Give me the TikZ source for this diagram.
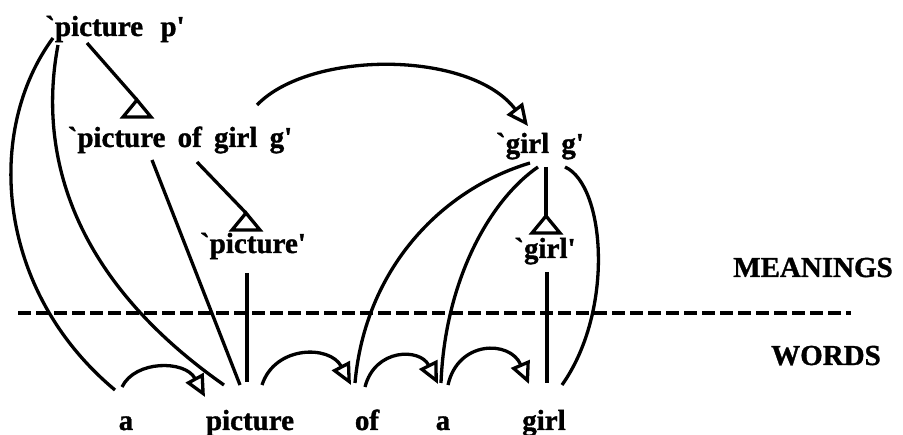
\documentclass[tikz,border=0pt]{standalone}
\usepackage{fontspec}
\setmainfont{Liberation Serif}[Ligatures=TeXOff,BoldFeatures={FakeBold=1.2}]
\usetikzlibrary{arrows.meta}
\newcommand\wsp{\hspace{0.42em}}
\begin{document}
\begin{tikzpicture}[x=1pt,y=-1pt,
  lbl/.style={anchor=base,inner sep=0pt,font=\fontsize{29}{31}\selectfont\bfseries},
  conn/.style={line width=3.3pt},
  arr/.style={line width=3.3pt,-{Triangle[open,length=22pt,width=20pt]}},
  tri/.style={line width=3.3pt,line join=miter},
  sep/.style={line width=3.3pt,dash pattern=on 13pt off 5pt}]
\useasboundingbox (0,0) rectangle (903,435);
% meaning nodes
\node[lbl] (pp) at (115,36) {`picture\hspace{0.6em}p'};
\node[lbl] (pg) at (180,147) {`picture\wsp of\wsp girl\wsp g'};
\node[lbl] (pc) at (253,253) {`picture'};
\node[lbl] (gg) at (540,153) {`girl\wsp g'};
\node[lbl] (gl) at (545,258) {`girl'};
\node[lbl] (mean) at (813,277) {MEANINGS};
\node[lbl] (wrds) at (826,365) {WORDS};
% word nodes
\node[lbl] (wa) at (126,430) {a};
\node[lbl] (wpic) at (250,430) {picture};
\node[lbl] (wof) at (367,430) {of};
\node[lbl] (wa2) at (443,430) {a};
\node[lbl] (wgirl) at (544,430) {girl};
% separator
\coordinate (sepL) at (18,313);
\coordinate (sepR) at (851,313);
\draw[sep] (sepL) -- (sepR);
% triangles (isa)
\coordinate (t1) at (137,100);
\coordinate (t2) at (246,213);
\coordinate (t3) at (546,216);
\foreach \t in {t1,t2,t3}{
  \draw[tri] (\t) -- ++(-14,17) -- ++(28,0) -- cycle;
}
% anchor points near nodes
\coordinate (pp1) at (53,38);
\coordinate (pp2) at (58,45);
\coordinate (pp3) at (87,43);
\coordinate (pg1) at (152,160);
\coordinate (pg2) at (197,162);
\coordinate (pg3) at (257,105);
\coordinate (gg1) at (530,163);
\coordinate (gg2) at (538,167);
\coordinate (gg3) at (546,167);
\coordinate (gg4) at (565,167);
\coordinate (gg5) at (528,126);
\coordinate (pc1) at (247,273);
\coordinate (gl1) at (547,272);
\coordinate (wa1) at (115,390);
\coordinate (waR) at (122,387);
\coordinate (wpicL) at (224,385);
\coordinate (wpicT) at (240,385);
\coordinate (wpicV) at (247,382);
\coordinate (wpicA) at (205,397);
\coordinate (wpicR) at (262,385);
\coordinate (wofA) at (351,385);
\coordinate (wofT) at (355,383);
\coordinate (wofR) at (365,387);
\coordinate (wa2A) at (438,384);
\coordinate (wa2T) at (441,383);
\coordinate (wa2R) at (448,385);
\coordinate (wgirlA) at (529,384);
\coordinate (wgirlV) at (547,383);
\coordinate (wgirlR) at (562,385);
% tree lines
\draw[conn] (pp3) -- (t1);
\draw[conn] (pg2) -- (t2);
\draw[conn] (gg3) -- (t3);
\draw[conn] (pc1) -- (wpicV);
\draw[conn] (gl1) -- (wgirlV);
\draw[conn] (pg1) -- (wpicT);
% long curves
\draw[conn] (pp1) .. controls (-15,130) and (-5,290) .. (wa1);
\draw[conn] (pp2) .. controls (40,140) and (60,270) .. (wpicL);
\draw[conn] (gg1) .. controls (440,190) and (365,270) .. (wofT);
\draw[conn] (gg2) .. controls (490,200) and (445,280) .. (wa2T);
\draw[conn] (gg4) .. controls (605,185) and (615,310) .. (wgirlR);
% arrow between meanings
\draw[arr] (pg3) .. controls (310,50) and (470,50) .. (gg5);
% word arrows
\draw[arr] (waR) .. controls (135,360) and (185,360) .. (wpicA);
\draw[arr] (wpicR) .. controls (275,345) and (330,345) .. (wofA);
\draw[arr] (wofR) .. controls (375,348) and (420,348) .. (wa2A);
\draw[arr] (wa2R) .. controls (458,340) and (510,340) .. (wgirlA);
\end{tikzpicture}
\end{document}
